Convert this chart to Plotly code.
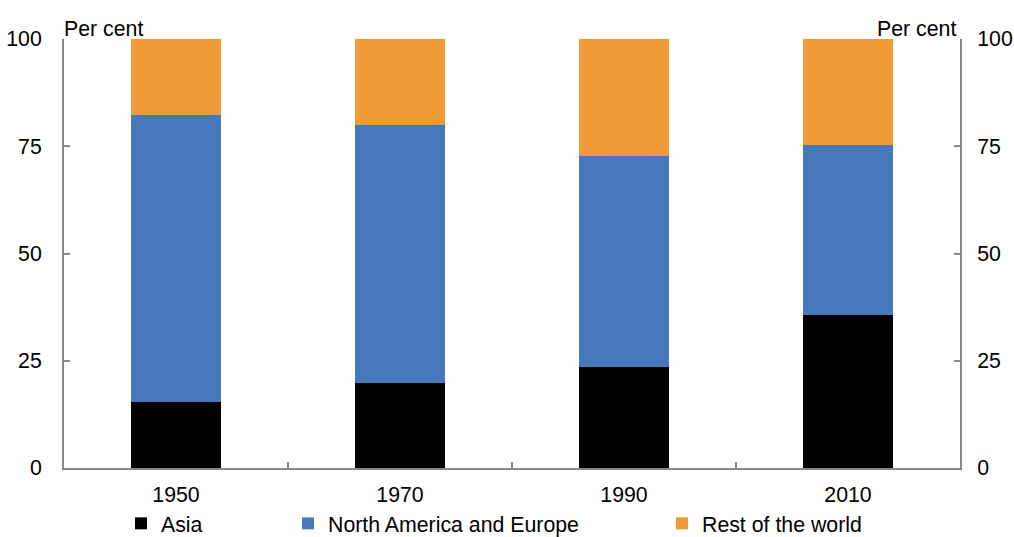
import plotly.graph_objects as go

years = ["1950", "1970", "1990", "2010"]
asia = [15.3, 19.7, 23.6, 35.7]
na_europe = [66.9, 60.3, 49.2, 39.7]
rest_world = [17.8, 20.0, 27.2, 24.6]
y_ticks = [0, 25, 50, 75, 100]

W, H = 1014, 544
FONT = "Liberation Sans, Arial, sans-serif"
FS = 21.3
GREY = "#898989"

fig = go.Figure()
fig.add_trace(go.Bar(x=years, y=asia, name="Asia", marker=dict(color="#000000", line=dict(width=0)), legend="legend"))
fig.add_trace(go.Bar(x=years, y=na_europe, name="North America and Europe", marker=dict(color="#4878BC", line=dict(width=0)), legend="legend2"))
fig.add_trace(go.Bar(x=years, y=rest_world, name="Rest of the world", marker=dict(color="#F09A37", line=dict(width=0)), legend="legend3"))
fig.add_trace(go.Scatter(x=years, y=asia, yaxis="y2", mode="markers", marker=dict(opacity=0), showlegend=False, hoverinfo="skip"))

yax = dict(range=[0, 100], tickvals=y_ticks, ticks="inside", ticklen=6, tickwidth=2, tickcolor=GREY,
           showline=True, linecolor=GREY, linewidth=2, showgrid=False, zeroline=False, automargin=False,
           tickfont=dict(family=FONT, size=FS, color="#000"), ticklabelstandoff=16, fixedrange=True)

def leg(xpix):
    return dict(xref="container", yref="container", x=xpix / W, y=0, xanchor="left", yanchor="bottom",
                orientation="h", font=dict(family=FONT, size=FS, color="#000"), bgcolor="rgba(0,0,0,0)",
                itemwidth=30, tracegroupgap=0)

fig.update_layout(
    width=W, height=H, barmode="stack", bargap=0.6,
    margin=dict(l=64, r=54, t=39, b=76, pad=0, autoexpand=False),
    plot_bgcolor="white", paper_bgcolor="white",
    font=dict(family=FONT, size=FS, color="#000"),
    xaxis=dict(type="category", range=[-0.5, 3.5], ticks="inside", tickson="boundaries", ticklen=6, tickwidth=2,
               tickcolor=GREY, showline=True, linecolor=GREY, linewidth=2, showgrid=False, automargin=False,
               tickfont=dict(family=FONT, size=FS, color="#000"), ticklabelstandoff=6, fixedrange=True),
    yaxis=yax,
    yaxis2=dict(yax, overlaying="y", side="right", ticklabelstandoff=11),
    legend=leg(163 - 42), legend2=leg(330 - 42), legend3=leg(704 - 42),
    annotations=[
        dict(text="Per cent", xref="paper", yref="paper", x=0, y=1, xanchor="left", yanchor="bottom",
             showarrow=False, font=dict(family=FONT, size=FS, color="#000"), yshift=-4, xshift=-2),
        dict(text="Per cent", xref="paper", yref="paper", x=1, y=1, xanchor="right", yanchor="bottom",
             showarrow=False, font=dict(family=FONT, size=FS, color="#000"), yshift=-4, xshift=-2),
    ],
)
fig.write_html("out.html", config={"displayModeBar": False},
               post_script="document.body.style.margin='0px';document.body.style.overflow='hidden';")
